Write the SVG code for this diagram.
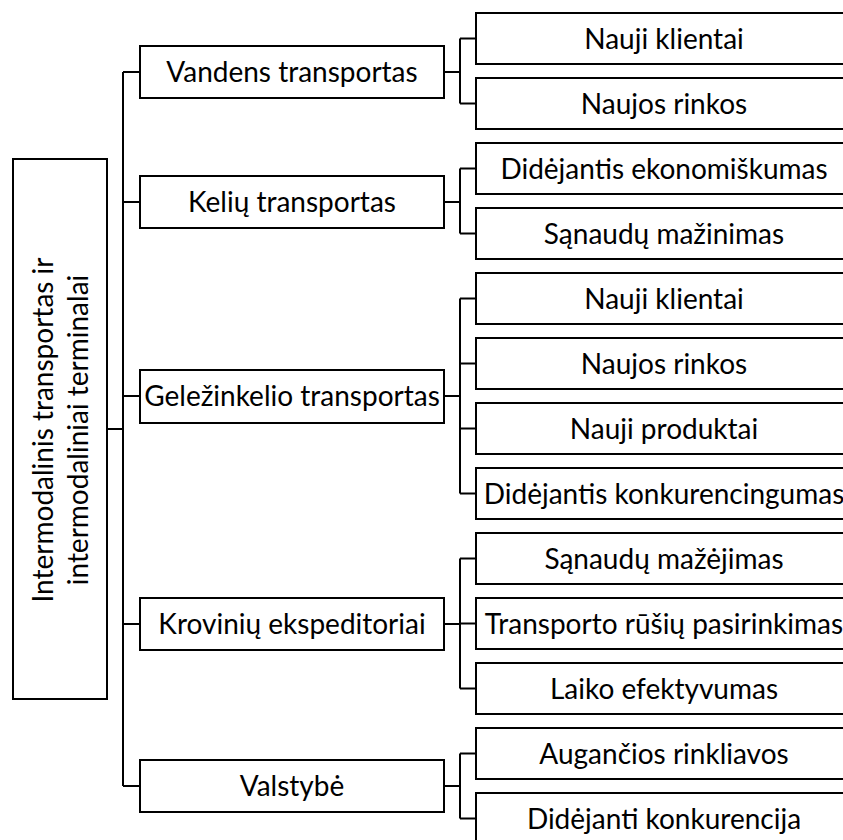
<svg xmlns="http://www.w3.org/2000/svg" width="843" height="840" viewBox="0 0 843 840">
<style>
.box{fill:#fff;stroke:#000;stroke-width:2}
.t{font-family:Lato,"Open Sans","Liberation Sans",sans-serif;font-size:28px;fill:#000;text-anchor:middle}
.c{fill:none;stroke:#000;stroke-width:2}
</style>
<rect width="843" height="840" fill="#fff"/>
<g id="connectors">
<path class="c" d="M107,429H123M123,72V786M123,72H140M123,202H140M123,396H140M123,624H140M123,786H140"/>
<path class="c" d="M444,72H460M460,38.5V103.5M460,38.5H476M460,103.5H476"/>
<path class="c" d="M444,202H460M460,168.5V233.5M460,168.5H476M460,233.5H476"/>
<path class="c" d="M444,396H460M460,298.5V493.5M460,298.5H476M460,363.5H476M460,428.5H476M460,493.5H476"/>
<path class="c" d="M444,624H460M460,558.5V688.5M460,558.5H476M460,623.5H476M460,688.5H476"/>
<path class="c" d="M444,786H460M460,753.5V818.5M460,753.5H476M460,818.5H476"/>
</g>
<g id="root"><rect class="box" x="13" y="159" width="94" height="540"/>
<text class="t" transform="translate(53,430) rotate(-90)">Intermodalinis transportas ir</text>
<text class="t" transform="translate(88,430) rotate(-90)">intermodaliniai terminalai</text></g>
<g id="vandens"><rect class="box" x="140" y="46" width="304" height="52"/><text class="t" x="292" y="82">Vandens transportas</text></g>
<g id="keliu"><rect class="box" x="140" y="176" width="304" height="52"/><text class="t" x="292" y="212">Kelių transportas</text></g>
<g id="gelezinkelio"><rect class="box" x="140" y="370" width="304" height="53"/><text class="t" x="292" y="406">Geležinkelio transportas</text></g>
<g id="kroviniu"><rect class="box" x="140" y="598" width="304" height="52"/><text class="t" x="292" y="634">Krovinių ekspeditoriai</text></g>
<g id="valstybe"><rect class="box" x="140" y="760" width="304" height="52"/><text class="t" x="292" y="796">Valstybė</text></g>
<g id="v1"><rect class="box" x="476" y="13" width="380" height="51"/><text class="t" x="664" y="49">Nauji klientai</text></g>
<g id="v2"><rect class="box" x="476" y="78" width="380" height="51"/><text class="t" x="664" y="114">Naujos rinkos</text></g>
<g id="k1"><rect class="box" x="476" y="143" width="380" height="51"/><text class="t" x="664" y="179">Didėjantis ekonomiškumas</text></g>
<g id="k2"><rect class="box" x="476" y="208" width="380" height="51"/><text class="t" x="664" y="244">Sąnaudų mažinimas</text></g>
<g id="g1"><rect class="box" x="476" y="273" width="380" height="51"/><text class="t" x="664" y="309">Nauji klientai</text></g>
<g id="g2"><rect class="box" x="476" y="338" width="380" height="51"/><text class="t" x="664" y="374">Naujos rinkos</text></g>
<g id="g3"><rect class="box" x="476" y="403" width="380" height="51"/><text class="t" x="664" y="439">Nauji produktai</text></g>
<g id="g4"><rect class="box" x="476" y="468" width="380" height="51"/><text class="t" x="664" y="504">Didėjantis konkurencingumas</text></g>
<g id="e1"><rect class="box" x="476" y="533" width="380" height="51"/><text class="t" x="664" y="569">Sąnaudų mažėjimas</text></g>
<g id="e2"><rect class="box" x="476" y="598" width="380" height="51"/><text class="t" x="664" y="634">Transporto rūšių pasirinkimas</text></g>
<g id="e3"><rect class="box" x="476" y="663" width="380" height="51"/><text class="t" x="664" y="699">Laiko efektyvumas</text></g>
<g id="s1"><rect class="box" x="476" y="728" width="380" height="51"/><text class="t" x="664" y="764">Augančios rinkliavos</text></g>
<g id="s2"><rect class="box" x="476" y="793" width="380" height="51"/><text class="t" x="664" y="829">Didėjanti konkurencija</text></g>
</svg>
